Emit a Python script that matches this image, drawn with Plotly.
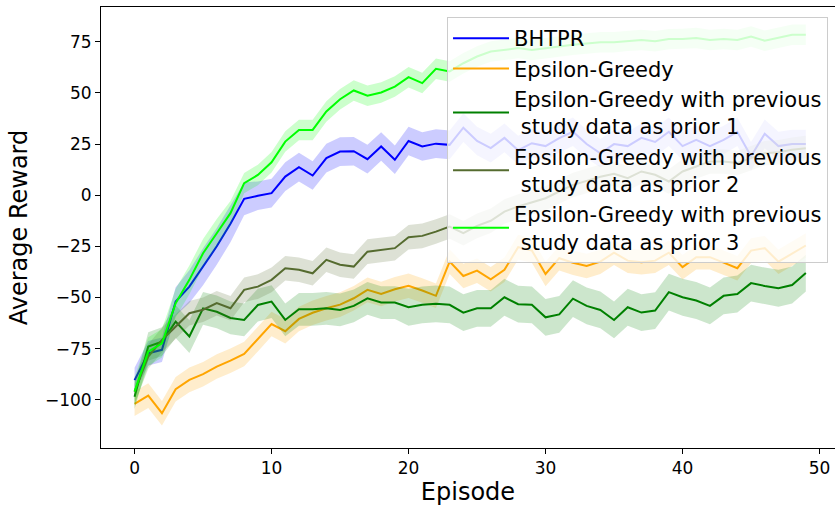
import plotly.graph_objects as go

episodes = list(range(50))

bhtpr = [-90.4, -77.3, -75.6, -52.0, -44.7, -35.0, -25.0, -14.0, -1.8, -0.3,
         1.0, 9.1, 13.7, 9.6, 18.1, 21.3, 21.5, 17.6, 23.8, 17.3,
         26.5, 23.8, 25.2, 24.6, 33.0, 26.5, 23.0, 28.0, 22.0, 25.4,
         24.0, 27.9, 31.0, 25.0, 20.5, 25.0, 24.0, 28.0, 26.0, 31.0,
         24.0, 27.0, 24.0, 27.0, 31.0, 19.0, 30.0, 24.0, 25.0, 25.0]
bhtpr_std = [6, 6, 6, 7, 8, 9, 9, 9, 8, 7,
             7, 7, 7, 7, 7, 7, 7, 7, 7, 7,
             7, 7, 7, 7, 7, 7, 7, 7, 7, 7,
             7, 7, 7, 7, 7, 7, 7, 7, 7, 7,
             7, 7, 7, 7, 7, 7, 7, 7, 7, 7]

eps_greedy = [-102.0, -98.0, -106.6, -94.9, -90.3, -87.5, -83.8, -80.9, -77.6, -70.4,
              -63.0, -66.5, -60.5, -57.5, -55.3, -53.5, -50.4, -46.3, -48.3, -46.0,
              -44.3, -46.6, -49.2, -32.5, -39.5, -36.9, -41.1, -36.5, -25.4, -27.0,
              -38.5, -30.8, -33.0, -34.6, -32.5, -28.1, -32.0, -32.8, -32.0, -28.1,
              -35.2, -30.3, -30.3, -33.0, -35.7, -27.1, -25.9, -32.5, -28.7, -24.6]
eps_greedy_std = [6, 6, 6, 6, 6, 6, 6, 6, 6, 6,
                  6, 6, 6, 6, 6, 6, 6, 6, 6, 6,
                  6, 6, 6, 6, 6, 6, 6, 6, 6, 6,
                  6, 6, 6, 6, 6, 6, 6, 6, 6, 6,
                  6, 6, 6, 6, 6, 6, 6, 6, 6, 6]

prior1 = [-98.5, -74.0, -71.6, -61.8, -69.1, -55.3, -57.0, -60.0, -61.0, -53.7,
          -52.0, -61.0, -55.8, -55.8, -55.3, -56.1, -54.1, -50.4, -52.5, -52.5,
          -54.8, -53.6, -53.1, -53.6, -57.4, -55.3, -55.3, -49.9, -53.3, -53.6,
          -59.7, -58.3, -50.6, -54.1, -56.1, -61.0, -54.8, -57.4, -56.4, -47.4,
          -49.9, -51.5, -54.1, -49.2, -48.3, -43.0, -44.4, -45.5, -43.9, -38.1]
prior1_std = [6, 7, 7, 8, 8, 8, 8, 8, 8, 8,
              8, 8, 8, 8, 8, 8, 8, 8, 8, 8,
              9, 9, 9, 9, 9, 9, 9, 9, 9, 9,
              9, 9, 9, 9, 9, 9, 9, 9, 9, 9,
              9, 9, 9, 9, 9, 9, 9, 9, 9, 9]

prior2 = [-96.0, -78.9, -70.8, -64.2, -57.7, -56.0, -52.8, -55.3, -46.3, -44.7,
          -41.4, -35.7, -36.5, -38.2, -31.6, -34.0, -34.9, -27.6, -26.7, -25.9,
          -20.6, -19.9, -17.8, -15.3, -18.6, -15.0, -12.5, -8.0, -5.5, -3.5,
          -1.5, 1.8, 5.0, 7.0, 9.0, 10.5, 8.3, 11.6, 10.0, 6.7,
          11.6, 14.0, 16.5, 16.5, 15.7, 18.1, 20.5, 21.0, 22.2, 23.0]
prior2_std = [6, 6, 6, 6, 6, 6, 6, 6, 6, 6,
              6, 6, 6, 6, 6, 6, 6, 6, 6, 6,
              6, 6, 6, 6, 6, 6, 6, 6, 6, 6,
              6, 6, 6, 6, 6, 6, 6, 6, 6, 6,
              6, 6, 6, 6, 6, 6, 6, 6, 6, 6]

prior3 = [-96.0, -76.5, -72.4, -52.8, -41.4, -28.4, -18.6, -8.8, 5.9, 9.9,
          16.1, 26.2, 31.9, 31.9, 40.9, 46.9, 51.2, 48.6, 50.2, 53.1,
          57.7, 54.8, 61.8, 60.5, 64.5, 67.8, 70.2, 71.0, 71.9, 71.0,
          72.0, 72.7, 73.5, 74.3, 74.8, 74.8, 75.5, 75.9, 75.3, 76.3,
          76.4, 76.8, 75.9, 76.4, 75.9, 77.6, 75.5, 77.1, 78.4, 78.4]
prior3_std = [7, 7, 7, 7, 7, 7, 7, 6, 5, 5,
              5, 5, 5, 5, 5, 5, 5, 5, 5, 5,
              5, 5, 5, 5, 5, 5, 5, 5, 5, 5,
              5, 5, 5, 5, 5, 5, 5, 5, 5, 5,
              5, 5, 5, 5, 5, 5, 5, 5, 5, 5]

NB = "\u00a0"
series = [
    ("BHTPR", bhtpr, bhtpr_std, (0, 0, 255)),
    ("Epsilon-Greedy", eps_greedy, eps_greedy_std, (255, 165, 0)),
    ("Epsilon-Greedy with previous<br>" + NB + "study data as prior 1", prior1, prior1_std, (0, 128, 0)),
    ("Epsilon-Greedy with previous<br>" + NB + "study data as prior 2", prior2, prior2_std, (85, 107, 47)),
    ("Epsilon-Greedy with previous<br>" + NB + "study data as prior 3", prior3, prior3_std, (0, 255, 0)),
]

fig = go.Figure()
for name, mean, std, (r, g, b) in series:
    upper = [m + s for m, s in zip(mean, std)]
    lower = [m - s for m, s in zip(mean, std)]
    fig.add_trace(go.Scatter(
        x=episodes + episodes[::-1],
        y=upper + lower[::-1],
        fill="toself",
        fillcolor=f"rgba({r},{g},{b},0.2)",
        line=dict(width=0),
        mode="lines",
        hoverinfo="skip",
        showlegend=False,
    ))
    fig.add_trace(go.Scatter(
        x=episodes, y=mean, mode="lines", name=name,
        line=dict(color=f"rgb({r},{g},{b})", width=2),
    ))

font_family = "DejaVu Sans"
fig.update_layout(
    width=835, height=506,
    margin=dict(l=101, r=0, t=7, b=58),
    paper_bgcolor="white", plot_bgcolor="white",
    font=dict(family=font_family, color="black"),
    legend=dict(
        x=0.9905, y=0.977, xanchor="right", yanchor="top",
        bgcolor="rgba(255,255,255,0.8)",
        bordercolor="rgba(204,204,204,1)", borderwidth=1,
        font=dict(size=21, family=font_family, color="black"),
        itemwidth=56,
        tracegroupgap=0,
    ),
)
fig.update_xaxes(
    range=[-2.45, 51.13], tickvals=[0, 10, 20, 30, 40, 50],
    showgrid=False, zeroline=False,
    showline=True, linecolor="black", linewidth=1, mirror=True,
    ticks="outside", ticklen=5, tickcolor="black",
    tickfont=dict(size=17),
    title=dict(text="Episode", font=dict(size=24), standoff=6),
)
fig.update_yaxes(
    range=[-123.6, 92], tickvals=[-100, -75, -50, -25, 0, 25, 50, 75],
    showgrid=False, zeroline=False,
    showline=True, linecolor="black", linewidth=1,
    ticks="outside", ticklen=5, tickcolor="black",
    tickfont=dict(size=17),
    title=dict(text="Average Reward", font=dict(size=24), standoff=10),
)

fig.write_html("out.html")
